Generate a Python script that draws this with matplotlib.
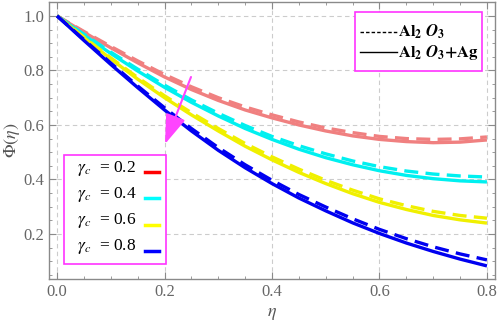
import matplotlib
matplotlib.use("Agg")
import matplotlib.pyplot as plt
from matplotlib.lines import Line2D
from matplotlib.patches import Rectangle, FancyArrowPatch
from matplotlib.ticker import MultipleLocator, FormatStrFormatter

plt.rcParams['font.family'] = ['Liberation Serif', 'DejaVu Serif']
plt.rcParams['mathtext.fontset'] = 'stix'

# ---- data ----
eta = [0.0, 0.05, 0.1, 0.15, 0.2, 0.25, 0.3, 0.35, 0.4, 0.45, 0.5, 0.55, 0.6, 0.65, 0.7, 0.75, 0.8]
gamma_labels = ['0.2', '0.4', '0.6', '0.8']

# Al2O3 + Ag (solid)
phi_solid_02 = [1.0, 0.94, 0.883, 0.828, 0.776, 0.73, 0.69, 0.655, 0.626, 0.6, 0.578, 0.56, 0.547, 0.539, 0.535, 0.537, 0.545]
phi_solid_04 = [1.0, 0.93, 0.862, 0.798, 0.738, 0.683, 0.633, 0.587, 0.547, 0.511, 0.48, 0.454, 0.432, 0.415, 0.403, 0.395, 0.391]
phi_solid_06 = [1.0, 0.92, 0.842, 0.768, 0.70, 0.637, 0.578, 0.522, 0.472, 0.426, 0.385, 0.348, 0.316, 0.29, 0.268, 0.252, 0.24]
phi_solid_08 = [1.0, 0.91, 0.822, 0.737, 0.655, 0.578, 0.507, 0.443, 0.385, 0.332, 0.285, 0.241, 0.202, 0.167, 0.136, 0.108, 0.083]

# Al2O3 (dashed)
phi_dash_02 = [1.0, 0.943, 0.888, 0.835, 0.785, 0.74, 0.70, 0.666, 0.637, 0.611, 0.589, 0.572, 0.558, 0.55, 0.547, 0.549, 0.556]
phi_dash_04 = [1.0, 0.933, 0.867, 0.805, 0.746, 0.692, 0.643, 0.598, 0.558, 0.524, 0.494, 0.468, 0.447, 0.431, 0.42, 0.413, 0.409]
phi_dash_06 = [1.0, 0.922, 0.846, 0.774, 0.707, 0.645, 0.587, 0.532, 0.483, 0.438, 0.397, 0.361, 0.329, 0.304, 0.283, 0.268, 0.258]
phi_dash_08 = [1.0, 0.913, 0.827, 0.743, 0.663, 0.587, 0.517, 0.454, 0.397, 0.345, 0.299, 0.256, 0.217, 0.183, 0.153, 0.127, 0.105]

solid = [phi_solid_02, phi_solid_04, phi_solid_06, phi_solid_08]
dashed = [phi_dash_02, phi_dash_04, phi_dash_06, phi_dash_08]
curve_colors = ['#F08080', '#00F0F0', '#F0F000', '#0000F0']
legend_colors = ['#FF0000', '#00FFFF', '#FFFF00', '#0000FF']

W, H = 498, 322
fig = plt.figure(figsize=(W / 100, H / 100), dpi=100)
ax = fig.add_axes([49 / W, 1 - 279 / H, (495 - 49) / W, (279 - 2) / H])

def px(x, y):
    return (x / W, 1 - y / H)

for d, s, c in zip(dashed, solid, curve_colors):
    ax.plot(eta, s, color=c, lw=2.4, solid_capstyle='butt', zorder=3)
    ax.plot(eta, d, color=c, lw=2.4, linestyle=(0, (4.2, 2.2)), zorder=3)

ax.set_xlim(-0.015, 0.815)
ax.set_ylim(0.035, 1.051)
ax.xaxis.set_major_locator(MultipleLocator(0.2))
ax.xaxis.set_minor_locator(MultipleLocator(0.05))
ax.yaxis.set_major_locator(MultipleLocator(0.2))
ax.yaxis.set_minor_locator(MultipleLocator(0.05))
ax.xaxis.set_major_formatter(FormatStrFormatter('%.1f'))
ax.yaxis.set_major_formatter(FormatStrFormatter('%.1f'))

spine_c = '#8a8a8a'
for sp in ax.spines.values():
    sp.set_color(spine_c)
    sp.set_linewidth(1.0)
ax.tick_params(which='both', direction='in', top=True, right=True, color=spine_c,
               labelcolor='#666666', labelsize=12)
ax.tick_params(which='major', length=5, width=0.8)
ax.tick_params(which='minor', length=2.5, width=0.6)
ax.grid(True, which='major', color='#cccccc', linestyle=(0, (4, 3)), lw=0.8)
ax.set_axisbelow(True)

ax.set_xlabel(r'$\eta$', fontsize=13, color='#555555', labelpad=4)
ax.set_ylabel(r'$\Phi(\eta)$', fontsize=13, color='#555555', labelpad=1)

# arrow
arr = FancyArrowPatch(px(191, 77), px(165, 144), transform=fig.transFigure,
                      arrowstyle='-|>,head_length=1.3,head_width=0.45', mutation_scale=14,
                      shrinkA=0, shrinkB=0, color='#FF44FF', lw=1.5, zorder=5)
fig.add_artist(arr)

# legend box 1 (gamma_c)
fig.add_artist(Rectangle(px(64, 264), (166 - 64) / W, (264 - 155) / H, transform=fig.transFigure,
                         facecolor='white', edgecolor='#FF33FF', lw=1.2, zorder=6))
ys = [168, 194, 221, 247]
for lab, yy, c in zip(gamma_labels, ys, legend_colors):
    fig.text(*px(77, yy), r'$\gamma_c$  = ' + lab, fontsize=12.5, color='black',
             va='center', ha='left', zorder=7)
    fig.add_artist(Line2D([145 / W, 159 / W], [1 - (yy + 4) / H] * 2, color=c, lw=2.5,
                          transform=fig.transFigure, zorder=7))

# legend box 2 (fluids)
fig.add_artist(Rectangle(px(355, 71), (482 - 355) / W, (71 - 12) / H, transform=fig.transFigure,
                         facecolor='white', edgecolor='#FF33FF', lw=1.2, zorder=6))
fig.add_artist(Line2D([360 / W, 397 / W], [1 - 32 / H] * 2, color='black', lw=1.0,
                      linestyle=(0, (2.5, 1.5)), transform=fig.transFigure, zorder=7))
fig.add_artist(Line2D([360 / W, 397 / W], [1 - 52 / H] * 2, color='black', lw=1.0,
                      transform=fig.transFigure, zorder=7))
fig.text(*px(398, 32), r'$\mathbf{Al_2}\ \mathbfit{O}_\mathbf{3}$', fontsize=12,
         va='center', ha='left', zorder=7)
fig.text(*px(398, 52), r'$\mathbf{Al_2}\ \mathbfit{O}_\mathbf{3}\mathbf{+Ag}$', fontsize=12,
         va='center', ha='left', zorder=7)

fig.savefig('out.png', dpi=100)
